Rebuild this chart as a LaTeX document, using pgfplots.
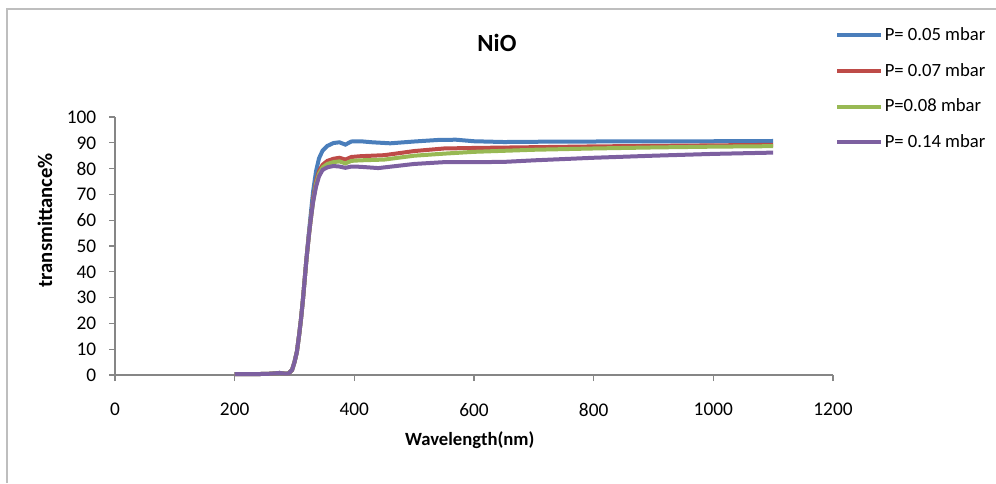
\documentclass[border=0pt]{standalone}
\usepackage{fontspec}
\setmainfont{Carlito}
\usepackage{pgfplots}
\pgfplotsset{compat=1.18}
\usepackage{pgfplotstable}
\definecolor{xblue}{RGB}{74,126,187}
\definecolor{xred}{RGB}{190,75,72}
\definecolor{xgreen}{RGB}{152,185,84}
\definecolor{xpurple}{RGB}{125,96,160}
\definecolor{axgray}{RGB}{134,134,134}
\definecolor{framegray}{RGB}{190,190,190}

\pgfplotstableread{
x y
200 0.3
230 0.3
260 0.5
275 0.8
285 0.5
290 0.6
296 2
300 5
304 9
308 16
311 22
314 29
317 37
320 45
324 55
327 62
331 71
336 79
341 84
347 87
355 88.8
365 89.9
375 90.2
385 89.3
395 90.5
410 90.6
430 90.2
460 89.8
500 90.5
540 91.1
570 91.2
600 90.6
650 90.3
700 90.4
800 90.5
900 90.6
1000 90.6
1100 90.7
}\blue

\pgfplotstableread{
x y
200 0.3
230 0.3
260 0.5
275 0.8
285 0.5
290 0.6
296 2
300 5
304 9
308 16
311 22
314 29
317 37
320 45
324 54
327 60
331 68
336 75
341 79
347 81.5
355 83
365 83.8
375 84.2
385 83.5
395 84.5
410 84.8
450 85.2
500 86.8
550 87.8
600 88
700 88.3
800 88.6
900 88.8
1000 89
1100 89.2
}\red

\pgfplotstableread{
x y
200 0.3
230 0.3
260 0.5
275 0.8
285 0.5
290 0.6
296 2
300 5
304 9
308 16
311 22
314 29
317 37
320 45
324 54
327 60
331 67
336 74
341 78
347 80.5
355 81.8
365 82.5
375 82.8
385 82
395 83
410 83.2
450 83.5
500 85
550 85.8
600 86.5
700 87.3
800 87.8
900 88.2
1000 88.5
1100 88.7
}\green

\pgfplotstableread{
x y
200 0.3
230 0.3
260 0.5
275 0.8
285 0.5
290 0.6
296 2
300 5
304 9
308 16
311 22
314 29
317 37
320 45
324 54
327 60
331 67
336 73
341 77
347 79.5
355 80.5
365 81
375 80.8
385 80.3
395 80.8
410 80.7
440 80.2
470 81
500 81.8
550 82.5
600 82.5
650 82.6
700 83.2
800 84.2
900 85
1000 85.7
1100 86.2
}\purple

\begin{document}
\begin{tikzpicture}
\path[use as bounding box] (0,0) rectangle (747pt,362.25pt);
\draw[framegray, line width=1.5pt] (5.25pt,0) -- (5.25pt,355.5pt) -- (747pt,355.5pt);
\begin{axis}[
  at={(86.25pt,81pt)}, anchor=south west,
  scale only axis, width=538.5pt, height=193.5pt,
  xmin=0, xmax=1200, ymin=0, ymax=100,
  xtick={0,200,...,1200}, ytick={0,10,...,100},
  axis x line*=bottom, axis y line*=left,
  axis line style={axgray, line width=0.8pt, -},
  tick style={axgray, line width=0.8pt},
  tick align=outside, major tick length=4.5pt,
  x tick label style={font=\fontsize{14.5}{14.5}\selectfont, yshift=-13pt},
  y tick label style={font=\fontsize{14.5}{14.5}\selectfont, xshift=-6pt},
  /pgf/number format/assume math mode=true,
  /pgf/number format/1000 sep={},
  xlabel={\textbf{Wavelength(nm)}},
  xlabel style={font=\fontsize{14}{14}\selectfont, at={(axis description cs:0.494,-0.252)}, anchor=center},
  ylabel={\textbf{transmittance\%}},
  ylabel style={font=\fontsize{15.5}{15.5}\selectfont, at={(axis description cs:-0.0975,0.60)}, anchor=center, rotate=0},
  title={\textbf{NiO}},
  title style={font=\fontsize{18.5}{18.5}\selectfont, at={(axis description cs:0.532,1.255)}, anchor=center},
  legend style={draw=none, fill=none, at={(axis description cs:1.003,1.352)}, anchor=north west,
    font=\fontsize{14}{14}\selectfont, row sep=13.5pt, inner sep=0pt,
    nodes={inner sep=1pt}},
  legend cell align=left,
  legend image code/.code={\draw[#1, line width=3pt] (0pt,0pt) -- (33pt,0pt);},
  clip=false,
]
\addplot[xblue, line width=3pt] table[x=x,y=y] {\blue};
\addlegendentry{P= 0.05 mbar}
\addplot[xred, line width=3pt] table[x=x,y=y] {\red};
\addlegendentry{P= 0.07 mbar}
\addplot[xgreen, line width=3pt] table[x=x,y=y] {\green};
\addlegendentry{P=0.08 mbar}
\addplot[xpurple, line width=3pt] table[x=x,y=y] {\purple};
\addlegendentry{P= 0.14 mbar}
\end{axis}
\end{tikzpicture}
\end{document}
